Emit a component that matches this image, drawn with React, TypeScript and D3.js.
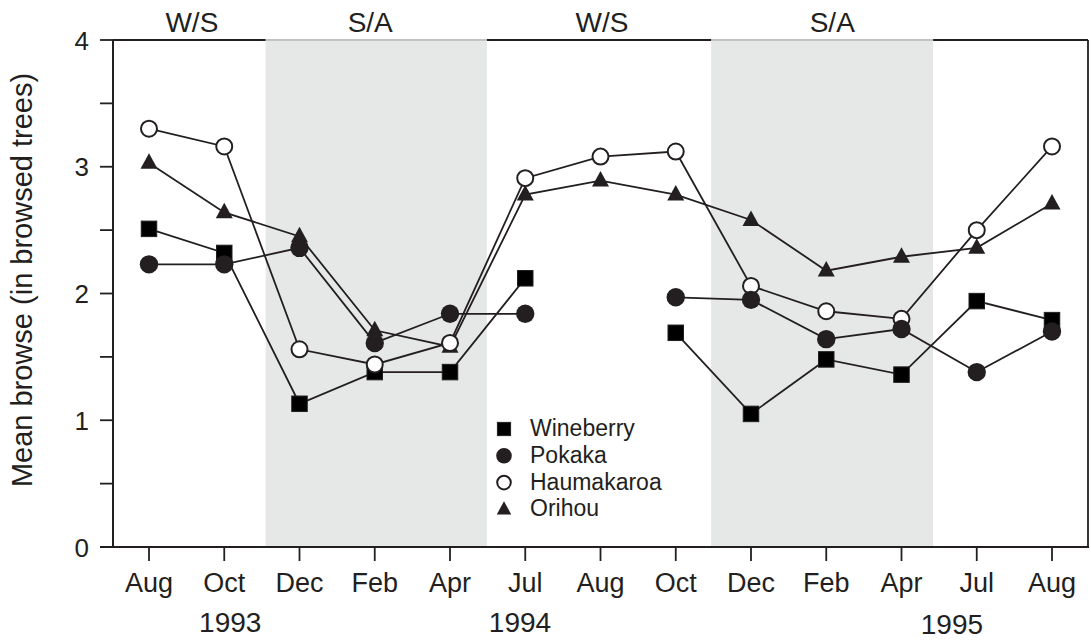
import React from "react";
import * as d3 from "d3";

const months = ["Aug", "Oct", "Dec", "Feb", "Apr", "Jul", "Aug", "Oct", "Dec", "Feb", "Apr", "Jul", "Aug"];
const years = ["1993", "1994", "1995"];
const yearPos = [1.08, 4.93, 10.67];
const seasons = ["W/S", "S/A", "W/S", "S/A"];
const seasonPos = [0.57, 2.94, 6.02, 9.08];
const shadeStart = [1.55, 7.47];
const shadeEnd = [4.49, 10.42];
const yTicks = [0, 0.5, 1, 1.5, 2, 2.5, 3, 3.5, 4];
const yLabels = [0, 1, 2, 3, 4];

const wineberry: (number | null)[] = [2.51, 2.32, 1.13, 1.38, 1.38, 2.12, null, 1.69, 1.05, 1.48, 1.36, 1.94, 1.79];
const pokaka: (number | null)[] = [2.23, 2.23, 2.36, 1.61, 1.84, 1.84, null, 1.97, 1.95, 1.64, 1.72, 1.38, 1.70];
const haumakaroa: (number | null)[] = [3.3, 3.16, 1.56, 1.44, 1.61, 2.91, 3.08, 3.12, 2.06, 1.86, 1.8, 2.5, 3.16];
const orihou: (number | null)[] = [3.03, 2.64, 2.45, 1.71, 1.58, 2.78, 2.89, 2.78, 2.58, 2.18, 2.29, 2.36, 2.71];

const seriesNames = ["Wineberry", "Pokaka", "Haumakaroa", "Orihou"];
const seriesData = [wineberry, pokaka, haumakaroa, orihou];
const markerKinds = ["square", "dot", "ring", "triangle"];
const drawOrder = [0, 3, 2, 1];

const INK = "#231f20";
const FONT = "'Liberation Sans', Arial, Helvetica, sans-serif";

function Marker({ kind, x, y, s = 1 }: { kind: string; x: number; y: number; s?: number }) {
  if (kind === "square") {
    const a = 15.5 * s;
    return <rect x={x - a / 2} y={y - a / 2} width={a} height={a} fill="#000" stroke={INK} strokeWidth={1} />;
  }
  if (kind === "dot") {
    return <circle cx={x} cy={y} r={9.2 * s} fill={INK} />;
  }
  if (kind === "ring") {
    return <circle cx={x} cy={y} r={8 * s} fill="#fff" stroke={INK} strokeWidth={2} />;
  }
  const w = 17 * s;
  const h = 15.5 * s;
  return (
    <path
      d={`M${x},${y - h * 0.62} L${x + w / 2},${y + h * 0.38} L${x - w / 2},${y + h * 0.38} Z`}
      fill={INK}
    />
  );
}

export default function App() {
  const width = 1091;
  const height = 640;
  const left = 113;
  const right = 1088;
  const top = 40;
  const bottom = 547;

  const x = d3.scaleLinear().domain([0, 12]).range([149, 1052]);
  const y = d3.scaleLinear().domain([0, 4]).range([bottom, top]);

  const line = d3
    .line<number | null>()
    .defined((d) => d != null)
    .x((_, i) => x(i))
    .y((d) => y(d as number));

  return (
    <svg width={width} height={height} style={{ position: "absolute", left: 0, top: 0 }} fontFamily={FONT}>
      <rect x={0} y={0} width={width} height={height} fill="#fff" />
      {/* frame */}
      <line x1={left} x2={right} y1={top} y2={top} stroke={INK} strokeWidth={1.8} />
      {shadeStart.map((s, i) => (
        <g key={"sh" + i}>
          <rect x={x(s)} y={top - 1} width={x(shadeEnd[i]) - x(s)} height={bottom - top} fill="#e6e7e7" />
          <line x1={x(s)} x2={x(shadeEnd[i])} y1={top} y2={top} stroke="#9d9d9d" strokeWidth={1.2} />
        </g>
      ))}
      <line x1={left} x2={left} y1={top} y2={bottom} stroke={INK} strokeWidth={2} />
      <line x1={right} x2={right} y1={top} y2={bottom} stroke={INK} strokeWidth={1.8} />
      <line x1={100} x2={right + 1} y1={bottom} y2={bottom} stroke={INK} strokeWidth={2} />

      {/* y ticks */}
      {yTicks.map((t) => (
        <line key={"yt" + t} x1={100} x2={left} y1={y(t)} y2={y(t)} stroke={INK} strokeWidth={1.8} />
      ))}
      {yLabels.map((t) => (
        <text key={"yl" + t} x={89} y={y(t) + 9.5} textAnchor="end" fontSize={26} fill={INK}>
          {t}
        </text>
      ))}
      <text
        transform={`translate(32,280) rotate(-90)`}
        textAnchor="middle"
        fontSize={29}
        fill={INK}
      >
        Mean browse (in browsed trees)
      </text>

      {/* x ticks */}
      {months.map((m, i) => (
        <g key={"xt" + i}>
          <line x1={x(i)} x2={x(i)} y1={bottom} y2={bottom + 14} stroke={INK} strokeWidth={1.8} />
          <text x={x(i)} y={592} textAnchor="middle" fontSize={27} fill={INK}>
            {m}
          </text>
        </g>
      ))}
      {years.map((yr, i) => (
        <text key={yr} x={x(yearPos[i])} y={i === 2 ? 634 : 632} textAnchor="middle" fontSize={28} fill={INK}>
          {yr}
        </text>
      ))}
      {seasons.map((s, i) => (
        <text key={"se" + i} x={x(seasonPos[i])} y={32} textAnchor="middle" fontSize={28} fill={INK}>
          {s}
        </text>
      ))}

      {/* lines */}
      {drawOrder.map((k) => (
        <path key={"ln" + k} d={line(seriesData[k]) || ""} fill="none" stroke={INK} strokeWidth={1.8} />
      ))}
      {/* markers */}
      {drawOrder.map((k) =>
        seriesData[k].map((v, i) =>
          v == null ? null : <Marker key={`m${k}-${i}`} kind={markerKinds[k]} x={x(i)} y={y(v)} />
        )
      )}

      {/* legend */}
      {seriesNames.map((n, i) => (
        <g key={"lg" + i}>
          <Marker kind={markerKinds[i]} x={504} y={429 + i * 26.8} s={0.85} />
          <text x={530} y={436 + i * 26.8} fontSize={23} fill={INK}>
            {n}
          </text>
        </g>
      ))}
    </svg>
  );
}
